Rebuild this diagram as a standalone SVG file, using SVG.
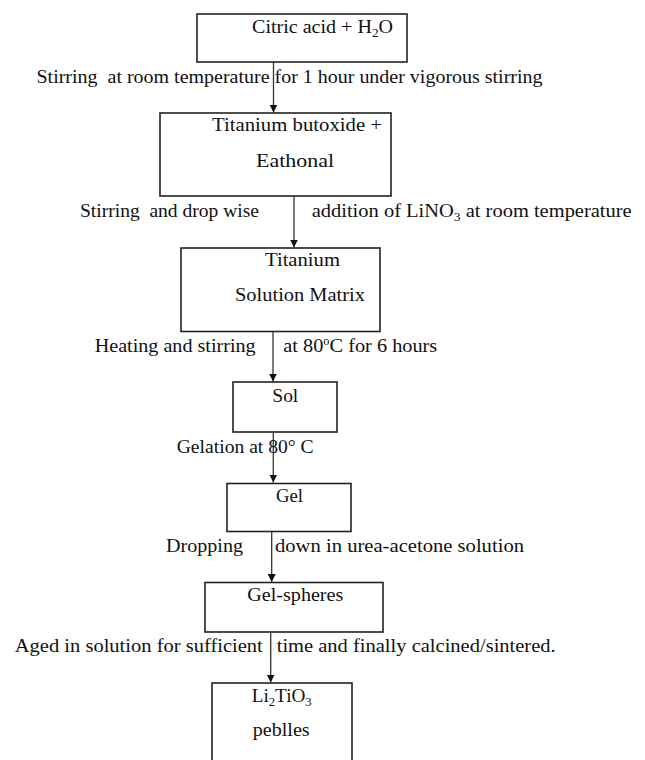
<svg xmlns="http://www.w3.org/2000/svg" width="645" height="760" viewBox="0 0 645 760">
<style>
text{font-family:"Liberation Serif","Times New Roman",serif;font-size:19px;fill:#111}
.box{fill:#fff;stroke:#222;stroke-width:1.6}
.conn{stroke:#333;stroke-width:1.3;fill:none}
.pre{white-space:pre}
</style>
<defs>
<marker id="arr" markerUnits="userSpaceOnUse" markerWidth="8" markerHeight="9" refX="8" refY="4" orient="auto">
<path d="M0,0 L8,4 L0,8 z" fill="#111"/>
</marker>
</defs>
<rect width="645" height="760" fill="#fff"/>
<g id="connectors">
<line class="conn" x1="273.5" y1="62" x2="273.5" y2="112.5" marker-end="url(#arr)"/>
<line class="conn" x1="294" y1="196" x2="294" y2="247.5" marker-end="url(#arr)"/>
<line class="conn" x1="273" y1="331.5" x2="273" y2="381.5" marker-end="url(#arr)"/>
<line class="conn" x1="273.3" y1="432" x2="273.3" y2="482.5" marker-end="url(#arr)"/>
<line class="conn" x1="271.7" y1="532" x2="271.7" y2="582" marker-end="url(#arr)"/>
<line class="conn" x1="270.7" y1="632" x2="270.7" y2="682.5" marker-end="url(#arr)"/>
</g>
<g id="labels">
<text class="pre" x="36.5" y="83" textLength="506" lengthAdjust="spacingAndGlyphs">Stirring  at room temperature for 1 hour under vigorous stirring</text>
<text class="pre" x="80" y="217" textLength="179" lengthAdjust="spacingAndGlyphs">Stirring  and drop wise</text>
<text x="311.7" y="217" textLength="320" lengthAdjust="spacingAndGlyphs">addition of LiNO<tspan font-size="12.5" dy="4">3</tspan><tspan dy="-4"> at room temperature</tspan></text>
<text x="94.7" y="351.5" textLength="161" lengthAdjust="spacingAndGlyphs">Heating and stirring</text>
<text x="283.3" y="351.5" textLength="154" lengthAdjust="spacingAndGlyphs">at 80<tspan font-size="11.5" dy="-7">o</tspan><tspan dy="7">C for 6 hours</tspan></text>
<text x="176.7" y="453" textLength="137" lengthAdjust="spacingAndGlyphs">Gelation at 80° C</text>
<text x="166" y="551.5" textLength="77" lengthAdjust="spacingAndGlyphs">Dropping</text>
<text x="275" y="551.5" textLength="249" lengthAdjust="spacingAndGlyphs">down in urea-acetone solution</text>
<text x="14.8" y="652" textLength="248" lengthAdjust="spacingAndGlyphs">Aged in solution for sufficient</text>
<text x="276.7" y="652" textLength="279" lengthAdjust="spacingAndGlyphs">time and finally calcined/sintered.</text>
</g>
<g id="n1">
<rect class="box" x="197" y="14" width="210" height="48"/>
<text x="252" y="33" textLength="141" lengthAdjust="spacingAndGlyphs">Citric acid + H<tspan font-size="12.5" dy="4">2</tspan><tspan dy="-4">O</tspan></text>
</g>
<g id="n2">
<rect class="box" x="160" y="113" width="231" height="83"/>
<text x="212" y="131" textLength="170" lengthAdjust="spacingAndGlyphs">Titanium butoxide +</text>
<text x="256" y="166.5" textLength="78" lengthAdjust="spacingAndGlyphs">Eathonal</text>
</g>
<g id="n3">
<rect class="box" x="181" y="248" width="199" height="83.5"/>
<text x="265" y="265.5" textLength="75" lengthAdjust="spacingAndGlyphs">Titanium</text>
<text x="235" y="301" textLength="130" lengthAdjust="spacingAndGlyphs">Solution Matrix</text>
</g>
<g id="n4">
<rect class="box" x="233" y="382" width="104" height="50"/>
<text x="272.3" y="401.5" textLength="26" lengthAdjust="spacingAndGlyphs">Sol</text>
</g>
<g id="n5">
<rect class="box" x="227" y="483.5" width="124" height="48"/>
<text x="276" y="501.7" textLength="27" lengthAdjust="spacingAndGlyphs">Gel</text>
</g>
<g id="n6">
<rect class="box" x="205" y="582.5" width="178" height="49.5"/>
<text x="247.3" y="601" textLength="96" lengthAdjust="spacingAndGlyphs">Gel-spheres</text>
</g>
<g id="n7">
<rect class="box" x="212" y="683" width="140" height="100"/>
<text x="251.7" y="701.7" textLength="60" lengthAdjust="spacingAndGlyphs">Li<tspan font-size="12.5" dy="4">2</tspan><tspan dy="-4">TiO</tspan><tspan font-size="12.5" dy="4">3</tspan></text>
<text x="252.7" y="736" textLength="57" lengthAdjust="spacingAndGlyphs">peblles</text>
</g>
</svg>
